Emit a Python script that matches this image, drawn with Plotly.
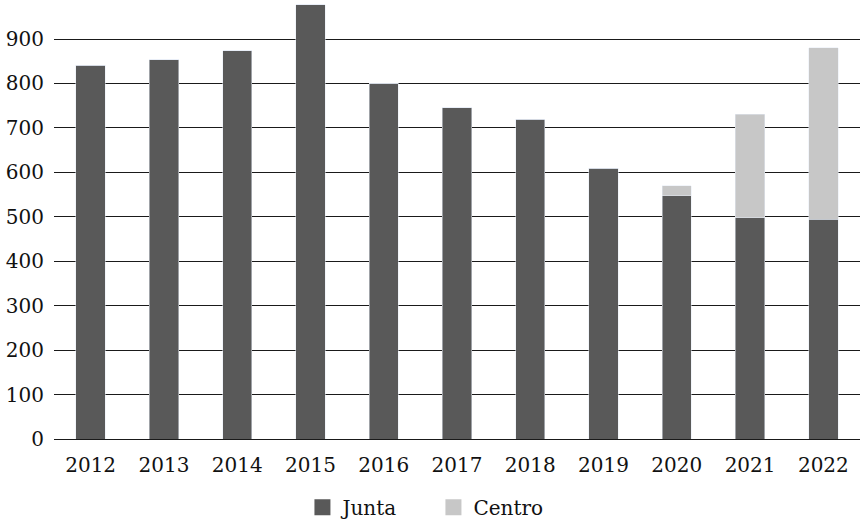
import plotly.graph_objects as go

years = ["2012", "2013", "2014", "2015", "2016", "2017", "2018", "2019", "2020", "2021", "2022"]
junta = [841, 853, 874, 977, 800, 745, 720, 609, 547, 498, 495]
centro = [0, 0, 0, 0, 0, 0, 0, 0, 23, 233, 385]
y_ticks = [0, 100, 200, 300, 400, 500, 600, 700, 800, 900]

DARK = "#595959"
LIGHT = "#c7c7c7"
FONT = dict(family="DejaVu Serif", size=20, color="#111111")

fig = go.Figure()
fig.add_trace(go.Bar(x=years, y=junta, name="Junta", marker_color=DARK, showlegend=False))
fig.add_trace(go.Bar(x=years, y=centro, name="Centro", marker_color=LIGHT, showlegend=False))

# legend entries drawn as square markers
for name, col in [("Junta", DARK), ("Centro", LIGHT)]:
    fig.add_trace(go.Scatter(x=[None], y=[None], mode="markers", name=name,
                             marker=dict(symbol="square", size=19, color=col)))

fig.update_layout(
    barmode="stack",
    bargap=0.6,
    width=860, height=525,
    margin=dict(l=54, r=0, t=0, b=86),
    paper_bgcolor="white", plot_bgcolor="white",
    font=FONT,
    legend=dict(orientation="h", xref="container", yref="container",
                x=0.504, xanchor="center", y=0.034, yanchor="middle",
                traceorder="normal", entrywidth=86, font=FONT),
)
fig.update_yaxes(range=[0, 987.8], tickvals=y_ticks, showgrid=True, gridcolor="#1a1a1a",
                 gridwidth=1, zeroline=True, zerolinecolor="#1a1a1a", zerolinewidth=1,
                 showline=False, ticks="", ticklabelstandoff=9, tickfont=FONT)
fig.update_xaxes(showgrid=False, showline=False, ticks="", ticklabelstandoff=12, tickfont=FONT)

fig.write_html("out.html")
